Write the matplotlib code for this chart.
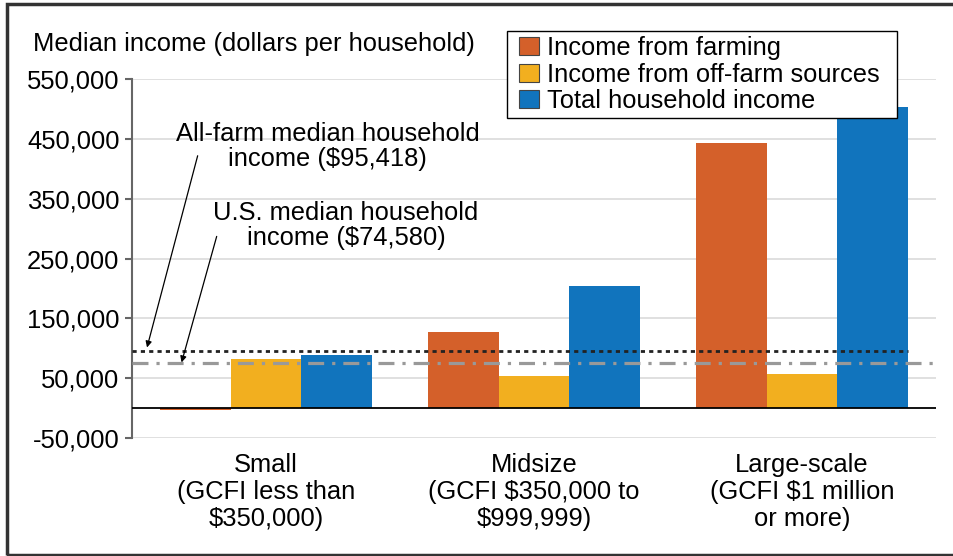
import matplotlib
matplotlib.use("Agg")
import matplotlib.pyplot as plt
from matplotlib.patches import Rectangle, Patch
import numpy as np

plt.rcParams['font.family'] = ['Liberation Sans', 'DejaVu Sans']

categories = ["Small\n(GCFI less than\n$350,000)",
              "Midsize\n(GCFI $350,000 to\n$999,999)",
              "Large-scale\n(GCFI $1 million\nor more)"]
series_names = ["Income from farming", "Income from off-farm sources", "Total household income"]
farming = [-3000, 127000, 444000]
off_farm = [82000, 54000, 57000]
total = [89000, 204000, 504000]
all_farm_median = 95418
us_median = 74580
yticks = [-50000, 50000, 150000, 250000, 350000, 450000, 550000]
colors = ["#D4602A", "#F2AF1F", "#1174BD"]

FS = 18.4

fig = plt.figure(figsize=(9.54, 5.56), dpi=100)
ax = fig.add_axes([132/954, 1-437.7/556, (936-132)/954, (437.7-79.3)/556])

x = np.arange(len(categories))
w = 0.264
for i, (vals, c, name) in enumerate(zip([farming, off_farm, total], colors, series_names)):
    ax.bar(x + (i-1)*w, vals, width=w, color=c, label=name, zorder=3)

ax.set_xlim(-0.5, 2.5)
ax.set_ylim(-50000, 550000)
ax.set_yticks(yticks)
ax.set_yticklabels([f"{v:,}" for v in yticks], fontsize=FS)
ax.set_xticks(x)
ax.set_xticklabels(categories, fontsize=FS, linespacing=1.17)
ax.tick_params(axis='x', length=0, pad=11)
ax.tick_params(axis='y', length=5, width=1.5, color="#666666", pad=4)
for s in ['top', 'right', 'bottom']:
    ax.spines[s].set_visible(False)
ax.spines['left'].set_color("#666666")
ax.spines['left'].set_linewidth(1.5)
ax.grid(axis='y', color="#DDDDDD", linewidth=1.3, zorder=0)
ax.set_axisbelow(True)
ax.axhline(0, color="black", linewidth=1.3, zorder=4)

# reference lines
ax.hlines(all_farm_median, -0.5, 2 + 1.5*w, colors="#222222", linestyles=(0, (1.5, 1.5)), linewidth=2, zorder=5)
ax.axhline(us_median, color="#999999", linestyle=(0, (5, 2.5, 1, 2.5)), linewidth=2.3, zorder=5)

ax.text(0.23, 438000, "All-farm median household\nincome ($95,418)", ha="center", va="center",
        fontsize=FS, linespacing=1.05, zorder=6)
ax.text(0.2985, 305000, "U.S. median household\nincome ($74,580)", ha="center", va="center",
        fontsize=FS, linespacing=1.05, zorder=6)
arrow_kw = dict(arrowstyle="-|>", color="black", lw=0.9, mutation_scale=9, shrinkA=0, shrinkB=0)
ax.annotate("", xy=(-0.444, 101000), xytext=(-0.255, 422000), arrowprops=arrow_kw, zorder=6)
ax.annotate("", xy=(-0.315, 76000), xytext=(-0.184, 287000), arrowprops=arrow_kw, zorder=6)

fig.text(33/954, 1-44/556, "Median income (dollars per household)", fontsize=FS, ha="left", va="center")

# legend box and legend
fig.patches.append(Rectangle((507/954, 1-118/556), 390/954, 87/556, transform=fig.transFigure,
                             facecolor="white", edgecolor="black", linewidth=1.0, zorder=8))
handles = [Patch(facecolor=c, edgecolor="#444444", linewidth=0.8) for c in colors]
leg = fig.legend(handles, series_names, loc="upper left", bbox_to_anchor=(519/954, 1-36/556),
                 bbox_transform=fig.transFigure, fontsize=FS, frameon=False,
                 borderpad=0, labelspacing=0.1, handlelength=0.8, handleheight=0.7,
                 handletextpad=0.3, borderaxespad=0)
leg.set_zorder(9)

# figure frame
fig.patches.append(Rectangle((7/954, 1/556), 1.0, 1-5/556, transform=fig.transFigure,
                             fill=False, edgecolor="#333333", linewidth=2.5))

fig.savefig("out.png", dpi=100)
